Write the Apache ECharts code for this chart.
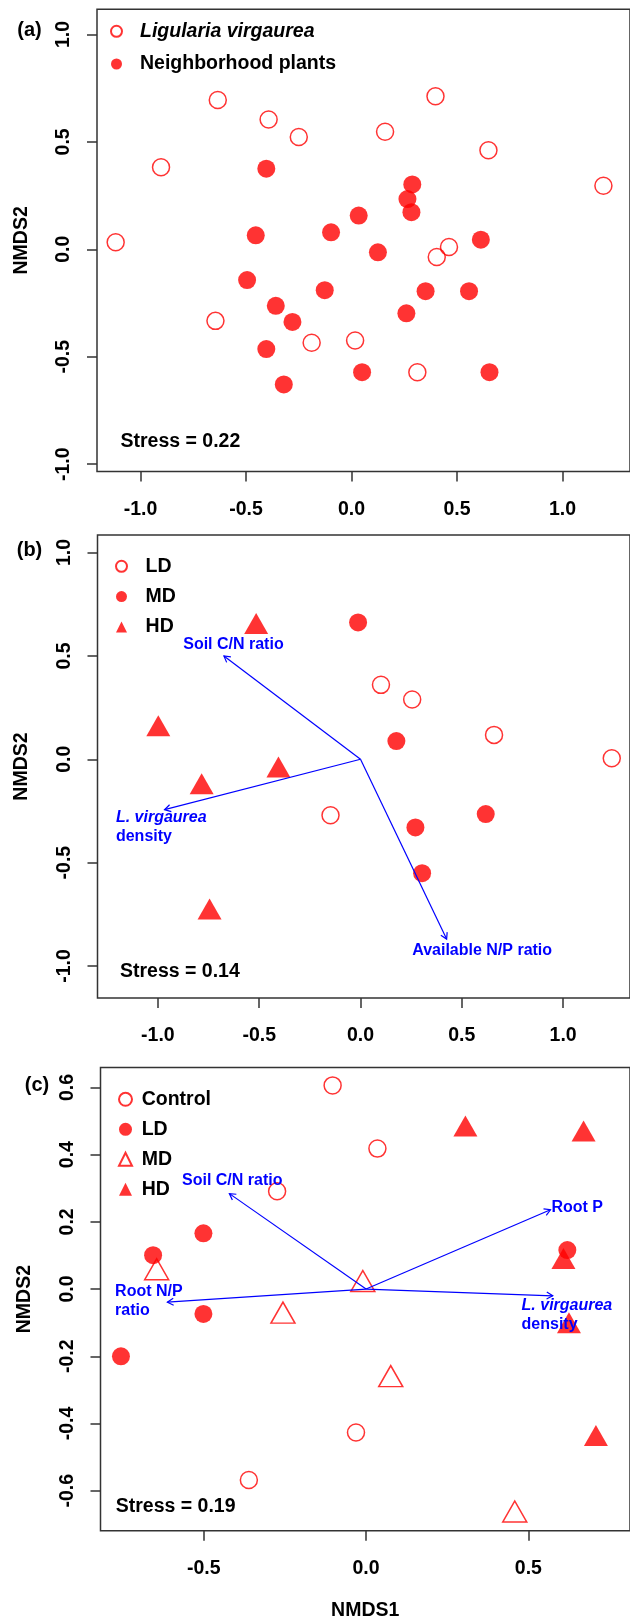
<!DOCTYPE html>
<html><head><meta charset="utf-8">
<script src="https://cdn.jsdelivr.net/npm/echarts@6/dist/echarts.min.js"></script>
<style>html,body{margin:0;padding:0;background:#fff}#c{width:630px;height:1623px}</style>
</head><body><div id="c"></div>
<script>
// ---------- Panel (a) ----------
const aLigularia = [[-1.118,0.033],[-0.903,0.382],[-0.634,0.695],[-0.393,0.604],[-0.250,0.523],[0.159,0.547],[0.398,0.712],[0.649,0.461],[1.194,0.296],[0.462,0.011],[0.404,-0.036],[-0.645,-0.333],[-0.189,-0.435],[0.017,-0.424],[0.312,-0.572]];
const aNeighbor = [[-0.404,0.375],[0.288,0.302],[0.265,0.234],[0.284,0.173],[0.034,0.157],[-0.454,0.065],[-0.097,0.079],[0.125,-0.014],[0.613,0.045],[-0.495,-0.143],[-0.127,-0.190],[0.351,-0.195],[0.557,-0.195],[-0.359,-0.263],[-0.280,-0.338],[0.260,-0.298],[-0.404,-0.464],[-0.321,-0.629],[0.050,-0.572],[0.654,-0.572]];
// ---------- Panel (b) ----------
const bLD = [[0.101,0.360],[0.255,0.289],[0.659,0.118],[1.240,0.005],[-0.148,-0.271]];
const bMD = [[-0.012,0.662],[0.177,0.088],[0.618,-0.265],[0.271,-0.330],[0.304,-0.551]];
const bHD = [[-0.515,0.657],[-0.998,0.162],[-0.784,-0.119],[-0.405,-0.038],[-0.745,-0.724]];
const bArrows = [[-0.674,0.500],[-0.967,-0.244],[0.425,-0.870]];
const bArrowNames = ['Soil C/N ratio','L. virgaurea\ndensity','Available N/P ratio'];
const bArrowLabelAt = [[-0.875,0.556],[-1.207,-0.328],[0.255,-0.927]];
// ---------- Panel (c) ----------
const cControl = [[-0.103,0.606],[0.035,0.418],[-0.274,0.291],[-0.031,-0.427],[-0.361,-0.568]];
const cLD = [[-0.656,0.101],[-0.501,0.166],[-0.501,-0.074],[-0.755,-0.200],[0.620,0.116]];
const cMD = [[-0.645,0.059],[-0.010,0.024],[-0.256,-0.070],[0.076,-0.259],[0.458,-0.662]];
const cHD = [[0.306,0.485],[0.670,0.470],[0.608,0.091],[0.625,-0.100],[0.708,-0.436]];
const cArrows = [[-0.421,0.284],[0.568,0.236],[-0.612,-0.039],[0.575,-0.020]];
const cArrowNames = ['Soil C/N ratio','Root P','Root N/P\nratio','L. virgaurea\ndensity'];
const cArrowLabelAt = [[-0.567,0.323],[0.571,0.242],[-0.773,-0.037],[0.479,-0.076]];
// ---------- Ticks & texts ----------
const ticksAB = [-1,-0.5,0,0.5,1];
const ticksCX = [-0.5,0,0.5];
const ticksCY = [-0.6,-0.4,-0.2,0,0.2,0.4,0.6];
const stressTexts = ['Stress = 0.22','Stress = 0.14','Stress = 0.19'];
const panelTags = ['(a)','(b)','(c)'];

const FONT = "'Liberation Sans', Arial, Helvetica, sans-serif";
const RED = '#FF0000', BLUE = '#0000FF', AX = '#333333';
const FS = 19.5;

const chart = echarts.init(document.getElementById('c'), null, {renderer:'canvas'});

function xAxisCfg(gi, min, max, ticks, name){
  return {type:'value', gridIndex:gi, min, max,
    axisLine:{show:false, onZero:false}, splitLine:{show:false},
    axisTick:{show:true, length:10, lineStyle:{color:AX, width:1.5}, customValues:ticks},
    axisLabel:{show:true, customValues:ticks, margin:28, formatter:v=>v.toFixed(1), color:'#000', fontFamily:FONT, fontWeight:'bold', fontSize:FS},
    name:name||'', nameLocation:'middle', nameGap:70,
    nameTextStyle:{color:'#000', fontFamily:FONT, fontWeight:'bold', fontSize:FS}};
}
function yAxisCfg(gi, min, max, ticks){
  return {type:'value', gridIndex:gi, min, max,
    axisLine:{show:false, onZero:false}, splitLine:{show:false},
    axisTick:{show:true, length:10, lineStyle:{color:AX, width:1.5}, customValues:ticks},
    axisLabel:{show:true, customValues:ticks, rotate:90, margin:23, formatter:v=>v.toFixed(1), color:'#000', fontFamily:FONT, fontWeight:'bold', fontSize:FS},
    name:'NMDS2', nameLocation:'middle', nameGap:65.5,
    nameTextStyle:{color:'#000', fontFamily:FONT, fontWeight:'bold', fontSize:FS}};
}
function pts(name, gi, data, symbol, filled){
  const tri = symbol === 'triangle';
  return {type:'scatter', name, xAxisIndex:gi, yAxisIndex:gi, data, symbol,
    symbolSize: tri ? [24,21] : (filled ? 18 : 17),
    itemStyle: filled ? {color:RED} : {color:'rgba(255,255,255,0)', borderColor:RED, borderWidth:1.5},
    silent:true, z:2, animation:false};
}
function arrowSeries(gi, data){
  return {type:'custom', xAxisIndex:gi, yAxisIndex:gi, data, silent:true, z:3,
    encode:{x:0, y:1},
    renderItem:(params, api)=>{
      const o = api.coord([0,0]);
      const e = api.coord([api.value(0), api.value(1)]);
      const ang = Math.atan2(e[1]-o[1], e[0]-o[0]);
      const L = 7, a = Math.PI/6;
      const p1 = [e[0]-L*Math.cos(ang-a), e[1]-L*Math.sin(ang-a)];
      const p2 = [e[0]-L*Math.cos(ang+a), e[1]-L*Math.sin(ang+a)];
      return {type:'group', children:[
        {type:'line', shape:{x1:o[0],y1:o[1],x2:e[0],y2:e[1]}, style:{stroke:BLUE, lineWidth:1.2}},
        {type:'polyline', shape:{points:[p1,e,p2]}, style:{stroke:BLUE, lineWidth:1.2, fill:null}}
      ]};
    }};
}
function arrowLabelSeries(gi, at, names){
  return {type:'custom', xAxisIndex:gi, yAxisIndex:gi, data:at, silent:true, z:4,
    encode:{x:0, y:1},
    renderItem:(params, api)=>{
      const p = api.coord([api.value(0), api.value(1)]);
      const txt = names[params.dataIndex].split('\n').map(s=> s==='L. virgaurea' ? '{i|'+s+'}' : '{n|'+s+'}').join('\n');
      return {type:'text', x:p[0], y:p[1], style:{text:txt, align:'left', verticalAlign:'middle',
        fill:BLUE, font:'bold 16px '+FONT, lineHeight:19,
        rich:{i:{fontStyle:'italic', fontWeight:'bold', fontSize:16, fontFamily:FONT, fill:BLUE, lineHeight:19},
              n:{fontWeight:'bold', fontSize:16, fontFamily:FONT, fill:BLUE, lineHeight:19}}}};
    }};
}
const legendFmt = n => { const t = n.slice(2); return t === 'Ligularia virgaurea' ? '{it|'+t+'}' : t; };
function legendCfg(names, left, top, size, itemGap, pad){
  return {data:names, orient:'vertical', left, top, itemWidth:size, itemHeight:size, itemGap, padding:0,
    selectedMode:false, formatter:legendFmt,
    textStyle:{color:'#000', fontFamily:FONT, fontWeight:'bold', fontSize:FS, lineHeight:20, padding:[0,0,0,pad],
      rich:{it:{fontStyle:'italic', fontWeight:'bold', fontFamily:FONT, fontSize:FS, color:'#000', lineHeight:20}}}};
}
function txt(text, x, y, align, size){
  return {type:'text', x, y, silent:true, z:10,
    style:{text, fill:'#000', font:'bold '+size+'px '+FONT, align, verticalAlign:'middle', textAlign:align, textVerticalAlign:'middle'}};
}

const option = {
  animation:false,
  backgroundColor:'#fff',
  grid:[
    {left:97, top:9.3, width:544.5, height:462.2, show:true, borderColor:AX, borderWidth:1.5, backgroundColor:'transparent', containLabel:false},
    {left:97.5, top:535, width:541.6, height:463, show:true, borderColor:AX, borderWidth:1.5, backgroundColor:'transparent', containLabel:false},
    {left:100.5, top:1067.6, width:552.6, height:463.1, show:true, borderColor:AX, borderWidth:1.5, backgroundColor:'transparent', containLabel:false}
  ],
  xAxis:[xAxisCfg(0,-1.2065,1.32,ticksAB), xAxisCfg(1,-1.298,1.33,ticksAB), xAxisCfg(2,-0.818,0.813,ticksCX,'NMDS1')],
  yAxis:[yAxisCfg(0,-1.034,1.117,ticksAB), yAxisCfg(1,-1.155,1.085,ticksAB), yAxisCfg(2,-0.719,0.659,ticksCY)],
  legend:[
    legendCfg(['a:Ligularia virgaurea','a:Neighborhood plants'], 110, 21.3, 11, 12.7, 13),
    legendCfg(['b:LD','b:MD','b:HD'], 115, 556.3, 11, 10.3, 13.6),
    legendCfg(['c:Control','c:LD','c:MD','c:HD'], 118, 1089.3, 13, 10, 4.7)
  ],
  graphic:[
    txt(panelTags[0], 29.5, 30, 'center', 20),
    txt(panelTags[1], 29.5, 550, 'center', 20),
    txt(panelTags[2], 37, 1085.5, 'center', 20),
    txt(stressTexts[0], 120.5, 441.5, 'left', FS),
    txt(stressTexts[1], 120, 971.5, 'left', FS),
    txt(stressTexts[2], 115.7, 1507, 'left', FS)
  ],
  series:[
    pts('a:Ligularia virgaurea',0,aLigularia,'circle',false),
    pts('a:Neighborhood plants',0,aNeighbor,'circle',true),
    pts('b:LD',1,bLD,'circle',false),
    pts('b:MD',1,bMD,'circle',true),
    pts('b:HD',1,bHD,'triangle',true),
    arrowSeries(1,bArrows),
    arrowLabelSeries(1,bArrowLabelAt,bArrowNames),
    pts('c:Control',2,cControl,'circle',false),
    pts('c:LD',2,cLD,'circle',true),
    pts('c:MD',2,cMD,'triangle',false),
    pts('c:HD',2,cHD,'triangle',true),
    arrowSeries(2,cArrows),
    arrowLabelSeries(2,cArrowLabelAt,cArrowNames)
  ]
};
chart.setOption(option);
</script></body></html>
